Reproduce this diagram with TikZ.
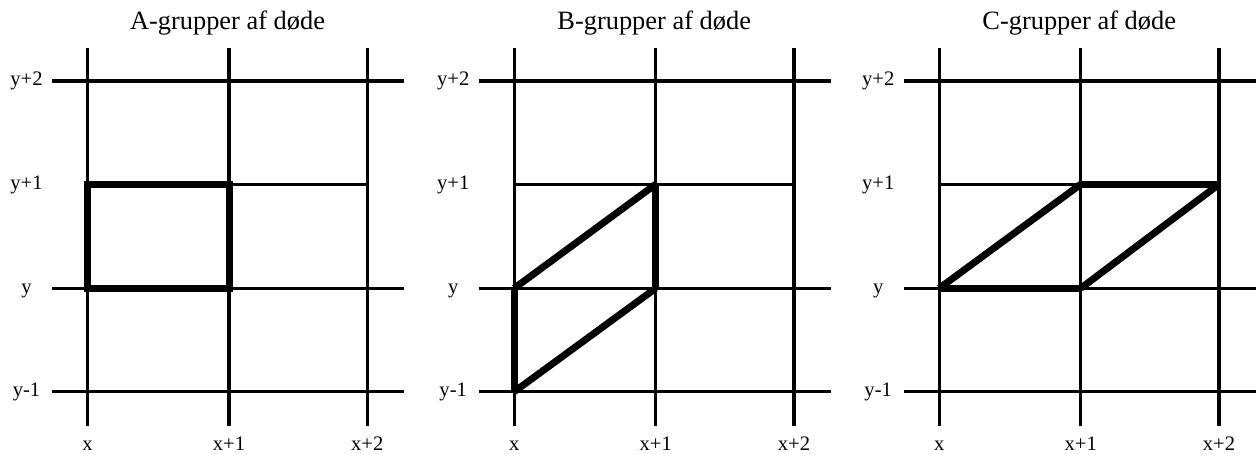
\documentclass[tikz,border=0pt]{standalone}
\usepackage{fontspec}
\setmainfont{Liberation Serif}
\begin{document}
\begin{tikzpicture}[x=0.5pt,y=-0.5pt,
  gridline/.style={line width=1.6pt, line cap=butt},
  deadedge/.style={line width=3.5pt, line cap=butt},
  deadbox/.style={line width=3.5pt, line join=miter},
  lab/.style={font=\fontsize{10.3}{12}\selectfont, inner sep=0pt, anchor=base},
  ttl/.style={font=\fontsize{13.2}{15}\selectfont, inner sep=0pt, anchor=base}]
\useasboundingbox (0,0) rectangle (1256,454);
\foreach \p/\o in {A/0, B/426.7, C/851.7} {
  % grid points: columns c0..c2 (x, x+1, x+2), rows r0..r3 (y-1, y, y+1, y+2)
  \foreach \c/\cx in {0/87.5, 1/229, 2/367.3} {
    \foreach \r/\ry in {0/391.7, 1/288.3, 2/184.3, 3/81} {
      \coordinate (\p-\c-\r) at (\cx+\o, \ry);
    }
  }
  % vertical lines
  \foreach \cx in {87.5, 229, 367.3}
    \draw[gridline] (\cx+\o, 48) -- (\cx+\o, 426);
  % horizontal lines
  \foreach \ry in {391.7, 288.3, 81}
    \draw[gridline] (52+\o, \ry) -- (404.3+\o, \ry);
  \draw[gridline] (\p-0-2) -- (\p-2-2);
  % title
  \node[ttl] (\p-title) at (227.5+\o, 30) {\p-grupper af døde};
  % x labels
  \node[lab] (\p-lx0) at (87.5+\o, 450) {x};
  \node[lab] (\p-lx1) at (229+\o, 450) {x+1};
  \node[lab] (\p-lx2) at (367.3+\o, 450) {x+2};
  % y labels
  \node[lab] (\p-ly0) at (26.5+\o, 396) {y-1};
  \node[lab] (\p-ly1) at (26.5+\o, 293.5) {y};
  \node[lab] (\p-ly2) at (26.5+\o, 190) {y+1};
  \node[lab] (\p-ly3) at (26.5+\o, 86) {y+2};
}
% A-group: square
\draw[deadbox] (A-0-1) -- (A-1-1) -- (A-1-2) -- (A-0-2) -- cycle;
% B-group: vertical parallelogram
\draw[deadedge] (B-0-0) -- (B-0-1);
\draw[deadedge] (B-0-0) -- (B-1-1);
\draw[deadedge] (B-1-1) -- (B-1-2);
\draw[deadedge] (B-0-1) -- (B-1-2);
% C-group: horizontal parallelogram
\draw[deadedge] (C-0-1) -- (C-1-1);
\draw[deadedge] (C-0-1) -- (C-1-2);
\draw[deadedge] (C-1-2) -- (C-2-2);
\draw[deadedge] (C-1-1) -- (C-2-2);
\end{tikzpicture}
\end{document}
